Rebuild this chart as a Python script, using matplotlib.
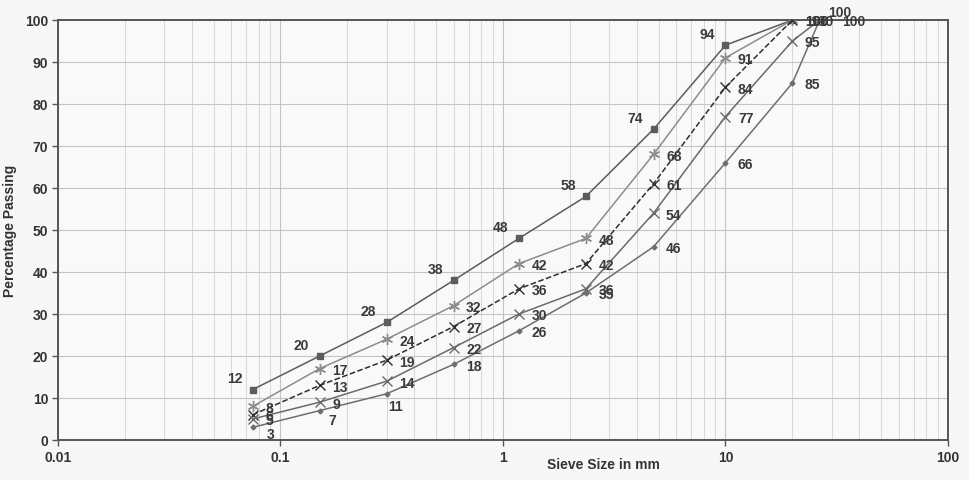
import matplotlib
matplotlib.use("Agg")
import matplotlib.pyplot as plt
from matplotlib.ticker import LogLocator, NullFormatter

# sieve sizes (mm)
sieves_a = [0.075, 0.15, 0.3, 0.6, 1.18, 2.36, 4.75, 10, 20]
sieves_b = [0.075, 0.15, 0.3, 0.6, 1.18, 2.36, 4.75, 10, 20, 26.5]

# percentage passing per curve
upper_limit = [12, 20, 28, 38, 48, 58, 74, 94, 100]
upper_mid = [8, 17, 24, 32, 42, 48, 68, 91, 100]
design_mix = [6, 13, 19, 27, 36, 42, 61, 84, 100]
lower_mid = [5, 9, 14, 22, 30, 36, 54, 77, 95, 100]
lower_limit = [3, 7, 11, 18, 26, 35, 46, 66, 85, 100]

x_ticks = [0.01, 0.1, 1, 10, 100]
x_tick_labels = ["0.01", "0.1", "1", "10", "100"]
y_ticks = list(range(0, 101, 10))

plt.rcParams["font.family"] = ["Liberation Sans", "DejaVu Sans"]
plt.rcParams["font.weight"] = "bold"

fig = plt.figure(figsize=(9.7, 4.81), dpi=100, facecolor="#f7f7f7")
ax = fig.add_axes([0.0598, 0.0832, 0.9175, 0.8732])
ax.set_facecolor("#f9f9f9")

series = [
    # x, y, color, marker, markersize, linestyle, label offset (pt), ha
    (sieves_a, upper_limit, "#5c5c5c", "s", 4.5, "-", (-13, 8), "center"),
    (sieves_a, upper_mid, "#8c8c8c", (6, 2, 0), 8, "-", (9, -1), "left"),
    (sieves_a, design_mix, "#2e2e2e", "x", 7, "--", (9, -1), "left"),
    (sieves_b, lower_mid, "#6a6a6a", "x", 7, "-", (9, -1), "left"),
    (sieves_b, lower_limit, "#6e6e6e", "D", 2.5, "-", (9, -1), "left"),
]

# a few labels that sit away from the default spot
label_overrides = {
    (0, 8): ((34, 6), "center"),
    (3, 9): ((16, -1), "left"),
    (4, 0): ((10, -5), "left"),
    (4, 1): ((6, -7), "left"),
    (4, 2): ((1, -9), "left"),
    (4, 9): ((-7, -1), "left"),
}

for si, (xs, ys, color, marker, ms, ls, off, ha) in enumerate(series):
    ax.plot(xs, ys, color=color, lw=1.1, ls=ls, marker=marker, ms=ms,
            mew=1.0, mfc=color, mec=color, zorder=3)
    for pi, (x, y) in enumerate(zip(xs, ys)):
        o, h = label_overrides.get((si, pi), (off, ha))
        ax.annotate(str(y), (x, y), xytext=o, textcoords="offset points",
                    ha=h, va="center", fontsize=10, fontweight="bold",
                    color="#3a3a3a", zorder=4)

ax.set_xscale("log")
ax.set_xlim(0.01, 100)
ax.set_ylim(0, 100)
ax.set_xticks(x_ticks, labels=x_tick_labels)
ax.set_yticks(y_ticks)
ax.xaxis.set_minor_locator(LogLocator(base=10, subs=range(2, 10)))
ax.xaxis.set_minor_formatter(NullFormatter())

ax.grid(True, which="major", color="#c4c4c4", lw=0.8)
ax.grid(True, which="minor", axis="x", color="#d2d2d2", lw=0.6)
ax.set_axisbelow(True)

for s in ax.spines.values():
    s.set_color("#555555")
    s.set_linewidth(1.4)

ax.tick_params(axis="both", which="major", length=4, width=1, color="#555555",
               labelsize=10, labelcolor="#333333", pad=3)
ax.tick_params(axis="x", which="minor", length=0)

ax.set_xlabel("Sieve Size in mm", fontsize=10, fontweight="bold", color="#333333")
ax.xaxis.set_label_coords(0.613, -0.04)
ax.set_ylabel("Percentage Passing", fontsize=10, fontweight="bold", color="#333333")
ax.yaxis.set_label_coords(-0.046, 0.5)

fig.savefig("out.png", dpi=100, facecolor=fig.get_facecolor())
